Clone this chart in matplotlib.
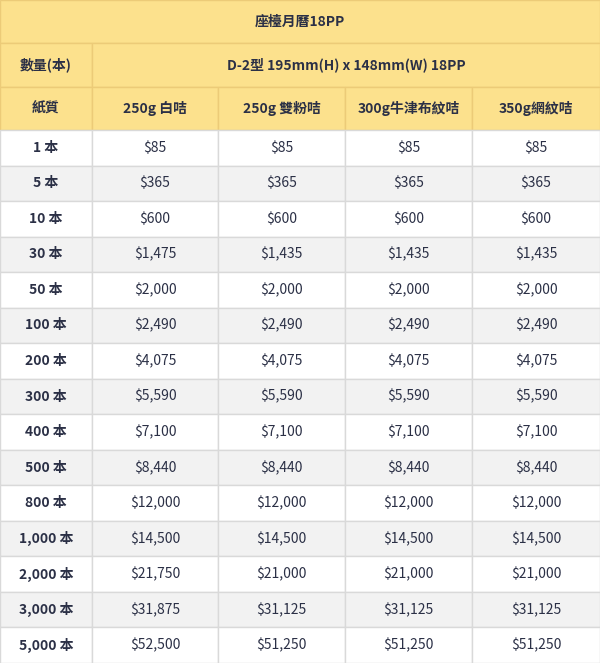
import matplotlib
matplotlib.use("Agg")
import matplotlib.pyplot as plt
from matplotlib.patches import Rectangle

plt.rcParams['font.family'] = ['Noto Sans CJK TC', 'DejaVu Sans']

title = "座檯月曆18PP"
qty_label = "數量(本)"
spec = "D-2型 195mm(H) x 148mm(W) 18PP"
paper_label = "紙質"
papers = ["250g 白咭", "250g 雙粉咭", "300g牛津布紋咭", "350g網紋咭"]
quantities = ["1 本", "5 本", "10 本", "30 本", "50 本", "100 本", "200 本", "300 本",
              "400 本", "500 本", "800 本", "1,000 本", "2,000 本", "3,000 本", "5,000 本"]
p_white = [85, 365, 600, 1475, 2000, 2490, 4075, 5590, 7100, 8440, 12000, 14500, 21750, 31875, 52500]
p_coated = [85, 365, 600, 1435, 2000, 2490, 4075, 5590, 7100, 8440, 12000, 14500, 21000, 31125, 51250]
p_linen = [85, 365, 600, 1435, 2000, 2490, 4075, 5590, 7100, 8440, 12000, 14500, 21000, 31125, 51250]
p_texture = [85, 365, 600, 1435, 2000, 2490, 4075, 5590, 7100, 8440, 12000, 14500, 21000, 31125, 51250]

W, H = 600, 663
fig = plt.figure(figsize=(W/100, H/100), dpi=100)
ax = fig.add_axes([0, 0, 1, 1])
ax.set_xlim(0, W); ax.set_ylim(H, 0); ax.axis('off')

yellow = "#FCE18D"; txt = "#2b3046"; line = "#d9d9d9"; yline = "#eccb78"
cols = [0, 92, 218, 345, 472, 600]
hdr = [0, 43, 87, 130]
rh = (H - 130) / len(quantities)

def cell(x0, x1, y0, y1, fc, ec):
    ax.add_patch(Rectangle((x0, y0), x1-x0, y1-y0, facecolor=fc, edgecolor=ec, lw=1))

def text(x, y, s, bold=False):
    ax.text(x, y, s, ha='center', va='center', fontsize=10, color=txt,
            fontweight='bold' if bold else 'normal')

cell(0, W, 0, 43, yellow, yline)
text(W/2, 21.5, title, True)
cell(0, 92, 43, 87, yellow, yline); text(46, 65, qty_label, True)
cell(92, W, 43, 87, yellow, yline); text((92+W)/2, 65, spec, True)
cell(0, 92, 87, 130, yellow, yline); text(46, 108.5, paper_label, True)
for i, p in enumerate(papers):
    cell(cols[i+1], cols[i+2], 87, 130, yellow, yline)
    text((cols[i+1]+cols[i+2])/2, 108.5, p, True)

series = [p_white, p_coated, p_linen, p_texture]
for r, q in enumerate(quantities):
    y0 = 130 + r*rh; y1 = y0 + rh
    fc = "#ffffff" if r % 2 == 0 else "#f2f2f2"
    cell(0, 92, y0, y1, fc, line); text(46, (y0+y1)/2, q, True)
    for c, s in enumerate(series):
        cell(cols[c+1], cols[c+2], y0, y1, fc, line)
        text((cols[c+1]+cols[c+2])/2, (y0+y1)/2, f"${s[r]:,}")

fig.savefig("out.png", dpi=100)
